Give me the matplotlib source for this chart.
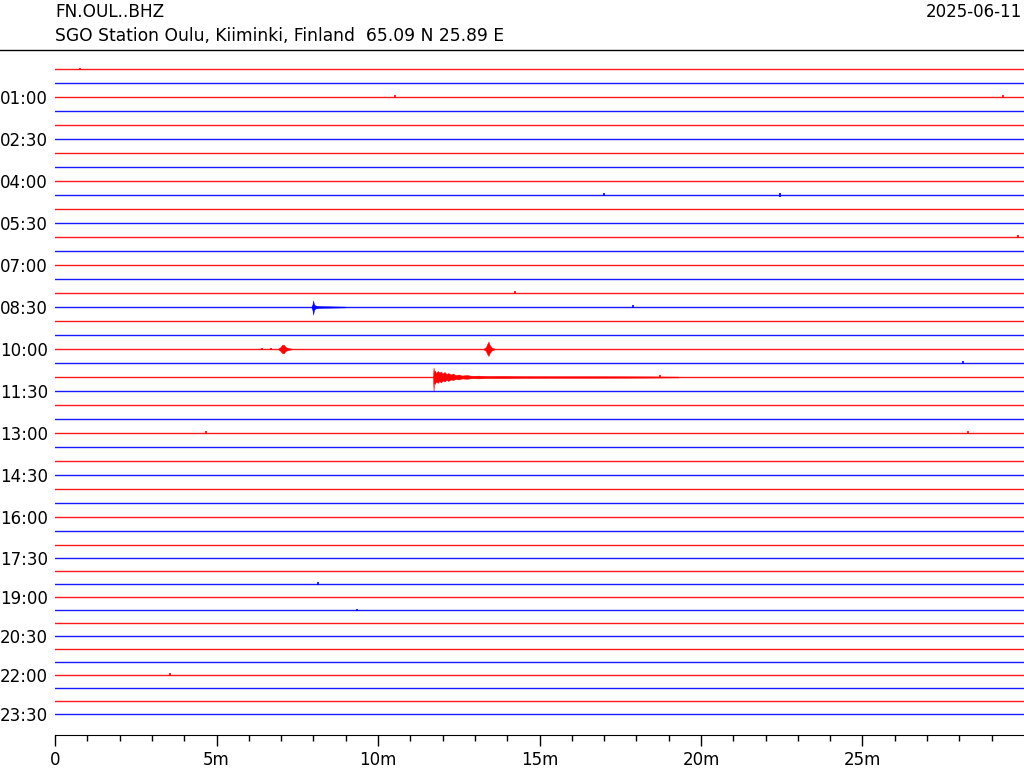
#!/usr/bin/env python3
# -*- coding: utf-8 -*-
"""
Day plot (helicorder) of FN.OUL..BHZ for 2025-06-11.
"""

import numpy as np
import matplotlib
matplotlib.use('Agg')
import matplotlib.pyplot as plt
from matplotlib.lines import Line2D

# Header text.
station = 'FN.OUL..BHZ'
station_info = 'SGO Station Oulu, Kiiminki, Finland  65.09 N 25.89 E'
day = '2025-06-11'

# One trace per 30 min, labels every 1.5 h.
n_traces = 48
trace_colors = ['red', 'blue']
label_traces = list(range(2, 48, 3))
label_texts = ['01:00', '02:30', '04:00', '05:30', '07:00', '08:30', '10:00', '11:30',
               '13:00', '14:30', '16:00', '17:30', '19:00', '20:30', '22:00', '23:30']
x_major = [0, 5, 10, 15, 20, 25]
x_major_labels = ['0', '5m', '10m', '15m', '20m', '25m']

# Larger events: trace index, minutes, upper and lower envelope (px).
ev_trace = [17, 20, 20, 22]
ev_t = [[7.94, 7.97, 7.99, 8.02, 8.06, 8.15, 8.30, 8.60, 9.00],
        [6.92, 6.98, 7.03, 7.08, 7.14, 7.22, 7.30],
        [13.28, 13.34, 13.38, 13.42, 13.46, 13.52, 13.60],
        [11.70, 11.72, 11.735, 11.76, 11.80, 11.85, 11.90, 11.95, 12.00, 12.06,
         12.12, 12.18, 12.25, 12.32, 12.40, 12.50, 12.60, 12.75, 12.90, 13.10,
         13.40, 13.80, 14.50, 15.50, 16.50, 17.50, 18.50, 19.30]]
ev_up = [[0.5, 2.5, 6.5, 2.5, 1.5, 1.0, 0.8, 0.6, 0.4],
         [0.6, 2.0, 4.0, 4.5, 2.0, 1.0, 0.5],
         [0.6, 2.0, 5.0, 7.5, 4.0, 1.5, 0.5],
         [0.4, 9.5, 5.0, 6.5, 4.0, 6.0, 4.5, 5.5, 3.5, 5.0,
          3.0, 4.0, 2.5, 3.5, 2.0, 2.5, 1.5, 2.0, 1.2, 1.4,
          1.0, 1.1, 0.9, 0.8, 0.8, 0.7, 0.6, 0.4]]
ev_down = [[0.5, 3.0, 7.5, 3.0, 1.5, 1.0, 0.8, 0.6, 0.4],
           [0.6, 2.0, 4.0, 4.5, 2.0, 1.0, 0.5],
           [0.6, 2.0, 5.0, 7.0, 4.0, 1.5, 0.5],
           [0.4, 14.0, 5.5, 7.0, 4.5, 6.0, 4.0, 5.5, 3.5, 4.5,
            3.0, 4.0, 2.5, 3.0, 2.0, 2.5, 1.5, 1.8, 1.2, 1.4,
            1.0, 1.1, 0.9, 0.8, 0.8, 0.7, 0.6, 0.4]]

# Small blips: trace index, minute, half amplitude (px).
blip_trace = [0, 2, 2, 9, 9, 12, 16, 17, 20, 20, 21, 22, 26, 26, 37, 39, 44]
blip_min = [0.77, 10.53, 29.35, 17.0, 22.45, 29.8, 14.24, 17.9, 6.4, 6.7,
            28.1, 18.73, 4.67, 28.27, 8.14, 9.35, 3.56]
blip_amp = [1.2, 1.5, 1.5, 1.5, 2.0, 1.5, 1.5, 1.5, 1.2, 1.2,
            1.5, 1.5, 1.5, 1.5, 1.5, 1.2, 1.5]

# Trace baselines in pixel rows (spacing 14 px, then 13 px).
gaps = [14] * 34 + [13] * 13
y_base = 69 + np.concatenate([[0], np.cumsum(gaps)])

fig = plt.figure(figsize=(10.24, 7.68), dpi=100)
ax = fig.add_axes([55 / 1024, 1 - 735 / 768, 1 - 55 / 1024, (735 - 52) / 768])

for i in range(n_traces):
    c = trace_colors[i % 2]
    ax.plot([0, 30], [y_base[i], y_base[i]], color=c, lw=1.0, alpha=0.9)

for tr, t, up, dn in zip(ev_trace, ev_t, ev_up, ev_down):
    c = trace_colors[tr % 2]
    t = np.array(t)
    ax.fill_between(t, y_base[tr] - np.array(up), y_base[tr] + np.array(dn),
                    color=c, lw=0.3)

for tr, m, a in zip(blip_trace, blip_min, blip_amp):
    ax.vlines(m, y_base[tr] - a, y_base[tr] + a, color=trace_colors[tr % 2], lw=1.2)

ax.set_xlim(0, 30)
ax.set_ylim(735, 52)
ax.set_xticks(x_major)
ax.set_xticklabels(x_major_labels, fontsize=12)
ax.set_xticks(range(1, 30), minor=True)
ax.set_yticks([y_base[i] for i in label_traces])
ax.set_yticklabels(label_texts, fontsize=12)
ax.tick_params(axis='y', length=0, pad=5)
ax.tick_params(axis='x', which='major', length=8, width=1, pad=3.5)
ax.tick_params(axis='x', which='minor', length=4.5, width=1)
for s in ['left', 'top', 'right']:
    ax.spines[s].set_visible(False)

fig.text(55 / 1024, 1 - 17 / 768, station, fontsize=12.2, va='baseline')
fig.text(55 / 1024, 1 - 41 / 768, station_info, fontsize=12.3, va='baseline')
fig.text(1022 / 1024, 1 - 17 / 768, day, fontsize=12, va='baseline', ha='right')
fig.add_artist(Line2D([0, 1], [1 - 50 / 768, 1 - 50 / 768], color='black', lw=1))

plt.savefig('out.png', dpi=100)
